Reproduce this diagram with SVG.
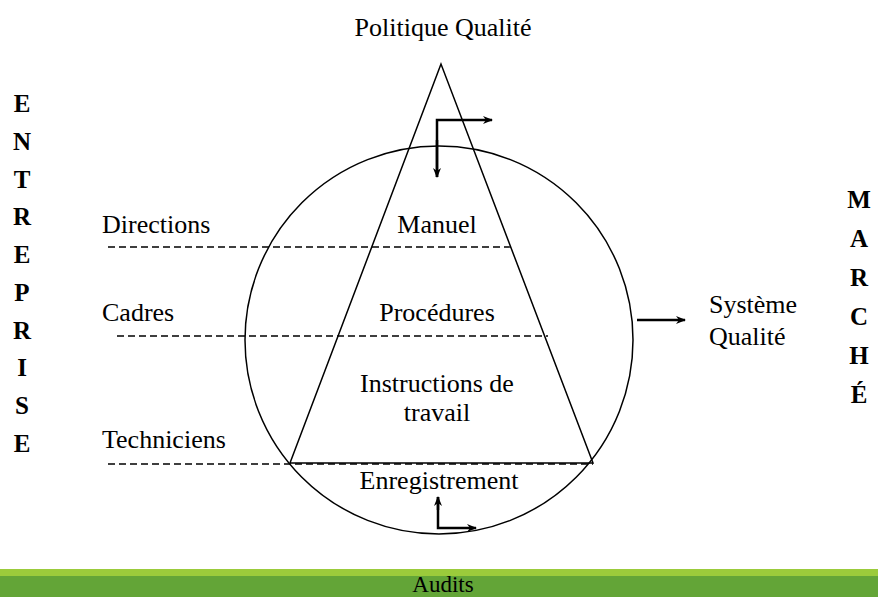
<svg xmlns="http://www.w3.org/2000/svg" width="878" height="597" viewBox="0 0 878 597">
<style>
text{font-family:"Liberation Serif","Times New Roman",serif;fill:#000}
.t{font-size:26px}
.b{font-size:25px;font-weight:bold;text-anchor:middle}
.c{text-anchor:middle}
.ln{stroke:#000;stroke-width:1.5;fill:none}
.d{stroke:#000;stroke-width:1.3;stroke-dasharray:7,4;fill:none}
.a{stroke:#000;stroke-width:2.5;fill:none}
</style>
<defs>
<marker id="ah" viewBox="0 0 10 10" refX="9" refY="5" markerWidth="5" markerHeight="4" orient="auto" markerUnits="strokeWidth">
<path d="M0,1 L10,5 L0,9 L3,5 z" fill="#000"/>
</marker>
</defs>
<rect width="878" height="597" fill="#fff"/>
<g id="circle"><circle class="ln" cx="439" cy="340" r="194"/></g>
<g id="triangle"><path class="ln" d="M441,64 L290,463 L593,463 Z"/></g>
<g id="connectors">
<line class="d" x1="108" y1="247" x2="515" y2="247"/>
<line class="d" x1="117" y1="336" x2="548" y2="336"/>
<line class="d" x1="108" y1="464" x2="593" y2="464"/>
<path class="a" d="M437,177 L437,120 L492,120" marker-end="url(#ah)"/>
<line class="a" x1="437" y1="140" x2="437" y2="177" marker-end="url(#ah)"/>
<path class="a" d="M438,497 L438,528 L476,528" marker-end="url(#ah)"/>
<line class="a" x1="438" y1="510" x2="438" y2="497" marker-end="url(#ah)"/>
<line class="a" x1="637" y1="320" x2="685" y2="320" marker-end="url(#ah)"/>
</g>
<g id="labels">
<text class="t c" x="443" y="36">Politique Qualité</text>
<text class="t" x="102" y="233">Directions</text>
<text class="t c" x="437" y="233">Manuel</text>
<text class="t" x="102" y="321">Cadres</text>
<text class="t c" x="437" y="321">Procédures</text>
<text class="t c" x="437" y="392">Instructions de</text>
<text class="t c" x="437" y="421">travail</text>
<text class="t" x="102" y="448">Techniciens</text>
<text class="t c" x="439" y="489">Enregistrement</text>
<text class="t" x="709" y="313">Système</text>
<text class="t" x="709" y="345">Qualité</text>
</g>
<g id="entreprise">
<text class="b" x="22" y="112">E</text>
<text class="b" x="22" y="150">N</text>
<text class="b" x="22" y="188">T</text>
<text class="b" x="22" y="225">R</text>
<text class="b" x="22" y="263">E</text>
<text class="b" x="22" y="301">P</text>
<text class="b" x="22" y="339">R</text>
<text class="b" x="22" y="376">I</text>
<text class="b" x="22" y="414">S</text>
<text class="b" x="22" y="452">E</text>
</g>
<g id="marche">
<text class="b" x="859" y="208">M</text>
<text class="b" x="859" y="247">A</text>
<text class="b" x="859" y="286">R</text>
<text class="b" x="859" y="325">C</text>
<text class="b" x="859" y="364">H</text>
<text class="b" x="859" y="403">É</text>
</g>
<g id="audits">
<rect x="0" y="569" width="878" height="7" fill="#9BCB3B"/>
<rect x="0" y="576" width="878" height="21" fill="#63A537"/>
<text class="c" style="font-size:23px" x="443" y="592">Audits</text>
</g>
</svg>
